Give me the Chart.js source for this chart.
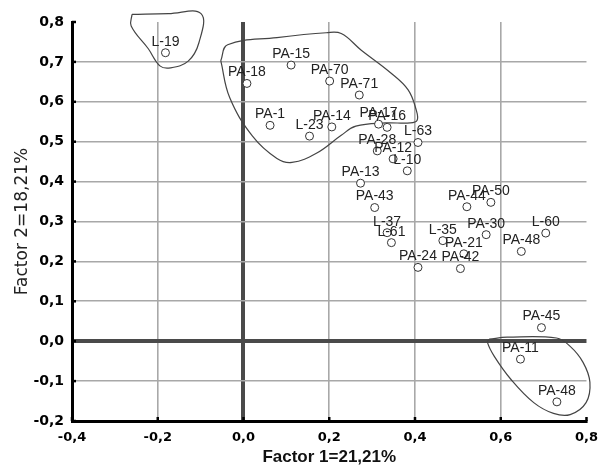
<!DOCTYPE html>
<html>
<head>
<meta charset="utf-8">
<script src="https://cdn.jsdelivr.net/npm/chart.js@4"></script>
<style>
  html, body { margin: 0; padding: 0; background: #fff; }
  #wrap { width: 607px; height: 474px; }
</style>
</head>
<body>
<div id="wrap"><canvas id="chart"></canvas></div>
<script>
// sample codes and their factor scores
const codes = ["L-19", "PA-15", "PA-18", "PA-70", "PA-71", "PA-1", "L-23", "PA-14", "PA-17", "PA-16",
  "L-63", "PA-28", "PA-12", "L-10", "PA-13", "PA-43", "L-37", "L-61", "L-35", "PA-24",
  "PA-21", "PA-42", "PA-44", "PA-50", "PA-30", "L-60", "PA-48", "PA-45", "PA-11", "PA-48"];
const factor1 = [-0.182, 0.111, 0.008, 0.201, 0.270, 0.062, 0.154, 0.206, 0.315, 0.335,
  0.407, 0.312, 0.349, 0.382, 0.273, 0.306, 0.335, 0.345, 0.465, 0.407,
  0.514, 0.506, 0.521, 0.577, 0.566, 0.705, 0.648, 0.695, 0.646, 0.731];
const factor2 = [0.723, 0.692, 0.646, 0.652, 0.617, 0.541, 0.514, 0.537, 0.544, 0.536,
  0.498, 0.477, 0.457, 0.427, 0.396, 0.335, 0.272, 0.247, 0.252, 0.185,
  0.219, 0.182, 0.337, 0.348, 0.267, 0.271, 0.225, 0.034, -0.045, -0.152];

// hand drawn group outlines (data units)
const loopA = [[-0.260, 0.819], [-0.175, 0.821], [-0.099, 0.821], [-0.104, 0.748], [-0.129, 0.702],
  [-0.170, 0.685], [-0.195, 0.690], [-0.222, 0.733], [-0.262, 0.790], [-0.260, 0.819]];
const loopB = [[-0.053, 0.703], [-0.037, 0.743], [0.078, 0.761], [0.193, 0.773], [0.228, 0.771],
  [0.274, 0.730], [0.343, 0.673], [0.384, 0.630], [0.403, 0.579], [0.405, 0.554],
  [0.389, 0.547], [0.331, 0.547], [0.262, 0.539], [0.228, 0.516], [0.170, 0.471],
  [0.113, 0.448], [0.078, 0.458], [0.021, 0.514], [-0.032, 0.610], [-0.053, 0.703]];
const loopC = [[0.573, 0.005], [0.615, 0.010], [0.730, 0.008], [0.762, -0.013], [0.792, -0.053],
  [0.808, -0.103], [0.799, -0.154], [0.762, -0.184], [0.723, -0.181], [0.677, -0.154],
  [0.624, -0.096], [0.585, -0.038], [0.569, -0.003], [0.573, 0.005]];

const xTitle = "Factor 1=21,21%";
const yTitle = "Factor 2=18,21%";

const fmt = v => v.toFixed(1).replace(".", ",");
const toXY = arr => arr.map(p => ({ x: p[0], y: p[1] }));

function loopSet(arr) {
  return {
    type: "line",
    data: toXY(arr),
    borderColor: "#444",
    borderWidth: 1.2,
    pointRadius: 0,
    tension: 0.4,
    fill: false,
    clip: false
  };
}

function gridColor(ctx, first, last) {
  const v = ctx.tick.value;
  if (Math.abs(v) < 1e-9) return "#4a4a4a";
  if (Math.abs(v - first) < 1e-9 || Math.abs(v - last) < 1e-9) return "rgba(0,0,0,0)";
  return "#a8a8a8";
}
const gridWidth = ctx => Math.abs(ctx.tick.value) < 1e-9 ? 4 : 1.6;

// labels above points + small inner tick marks
const extras = {
  id: "extras",
  afterDatasetsDraw(chart) {
    const ctx = chart.ctx;
    const meta = chart.getDatasetMeta(0);
    ctx.save();
    ctx.font = "14px 'Liberation Sans', Arial, sans-serif";
    ctx.fillStyle = "#222";
    ctx.textAlign = "center";
    ctx.textBaseline = "bottom";
    meta.data.forEach((el, i) => {
      ctx.fillText(codes[i], el.x, el.y - 4);
    });
    const xs = chart.scales.x, ys = chart.scales.y;
    const area = chart.chartArea;
    ctx.strokeStyle = "#000";
    ctx.lineWidth = 2.5;
    xs.ticks.forEach(t => {
      const px = xs.getPixelForValue(t.value);
      ctx.beginPath();
      ctx.moveTo(px, area.bottom);
      ctx.lineTo(px, area.bottom - 4);
      ctx.stroke();
    });
    ys.ticks.forEach(t => {
      const py = ys.getPixelForValue(t.value);
      ctx.beginPath();
      ctx.moveTo(area.left, py);
      ctx.lineTo(area.left + 4, py);
      ctx.stroke();
    });
    ctx.restore();
  }
};

new Chart(document.getElementById("chart"), {
  type: "scatter",
  data: {
    datasets: [
      {
        data: factor1.map((x, i) => ({ x: x, y: factor2[i] })),
        pointRadius: 4,
        pointBackgroundColor: "#fff",
        pointBorderColor: "#333",
        pointBorderWidth: 1
      },
      loopSet(loopA),
      loopSet(loopB),
      loopSet(loopC)
    ]
  },
  options: {
    responsive: true,
    maintainAspectRatio: false,
    animation: false,
    layout: { padding: { top: 22, right: 14, left: 0, bottom: 0 } },
    elements: { line: { capBezierPoints: false } },
    plugins: { legend: { display: false }, tooltip: { enabled: false } },
    scales: {
      x: {
        type: "linear",
        min: -0.4,
        max: 0.8,
        afterFit: s => { s.height = 53; },
        ticks: {
          stepSize: 0.2,
          padding: 9,
          color: "#000",
          font: { family: "'DejaVu Sans'", weight: "bold", size: 13 },
          callback: fmt
        },
        grid: {
          drawTicks: false,
          color: c => gridColor(c, -0.4, 0.8),
          lineWidth: gridWidth
        },
        border: { color: "#000", width: 3 },
        title: {
          display: true,
          text: xTitle,
          color: "#111",
          font: { family: "'Liberation Sans', Arial", weight: "bold", size: 17 },
          padding: { top: 0, bottom: 6 }
        }
      },
      y: {
        type: "linear",
        min: -0.2,
        max: 0.8,
        afterFit: s => { s.width = 72; },
        ticks: {
          stepSize: 0.1,
          padding: 8,
          color: "#000",
          font: { family: "'DejaVu Sans'", weight: "bold", size: 14 },
          callback: fmt
        },
        grid: {
          drawTicks: false,
          color: c => gridColor(c, -0.2, 0.8),
          lineWidth: gridWidth
        },
        border: { color: "#000", width: 3 },
        title: {
          display: true,
          text: yTitle,
          color: "#222",
          font: { family: "'DejaVu Sans'", size: 17 },
          padding: { top: 12, bottom: 0 }
        }
      }
    }
  },
  plugins: [extras]
});
</script>
</body>
</html>
